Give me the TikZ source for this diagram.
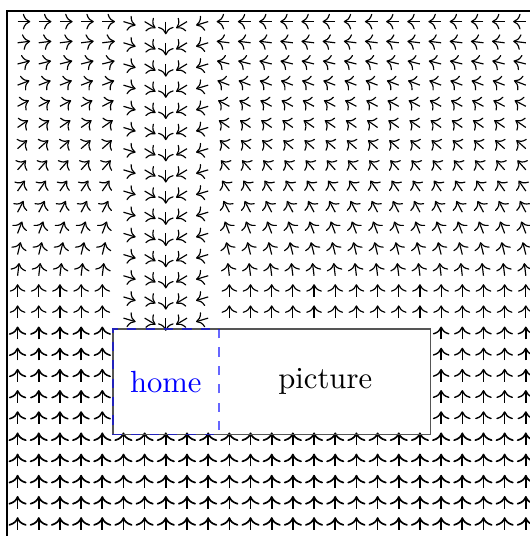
\documentclass[tikz,border=0pt]{standalone}
\usepackage{tikz}
\usetikzlibrary{arrows.meta,positioning}
\usepackage{xcolor}
\definecolor{homeblue}{RGB}{0,0,255}
\definecolor{boxgray}{RGB}{85,85,85}

\begin{document}
\begin{tikzpicture}[x=0.243cm, y=0.243cm, every node/.style={font=\normalsize},
    picbox/.style={draw=boxgray, line width=0.6pt, minimum width=3.645cm,
      minimum height=1.215cm, inner sep=0pt, outer sep=0pt},
    homebox/.style={draw=homeblue, draw opacity=0.6, line width=0.6pt, dashed,
      text=homeblue, minimum size=1.215cm, inner sep=0pt, outer sep=0pt}]
        \clip (-0.33,0.21) rectangle (24.69,25.52);
        \draw[black] (0,0) rectangle (25,25);
        % the field, one arrow per cell, none inside the box
        \foreach \i in {0,...,24} {
          \foreach \j in {0,...,24} {
            \pgfmathtruncatemacro{\inbox}{(\i>4)*(\i<20)*(\j>4)*(\j<10)}
            \pgfmathsetmacro{\tilt}{min(90,(24-\j)*90/13)}
            \pgfmathsetmacro{\ang}{\j<10 ? 90 : (\i<5 ? \tilt : (\i>9 ? 180-\tilt : atan2(-0.6,7-\i)))}
            \pgfmathsetmacro{\lw}{\j<5 ? 0.55 : (\j<10 ? (\i<5 ? 0.5 : 0.45) : 0.38)}
            \ifnum\inbox=0
              \draw[->, line width=\lw pt] (\i+0.5,\j+0.5) -- ++(\ang:0.6);
            \fi
          }
        }
        \node[picbox] (pic) at (12.5,7.5) {};
        \node[homebox, anchor=west] (home) at (pic.west) {home};
        \node[right=0pt of home, minimum width=2.43cm, minimum height=1.215cm,
          inner sep=0pt] (lbl) {picture};
      \end{tikzpicture}
\end{document}
